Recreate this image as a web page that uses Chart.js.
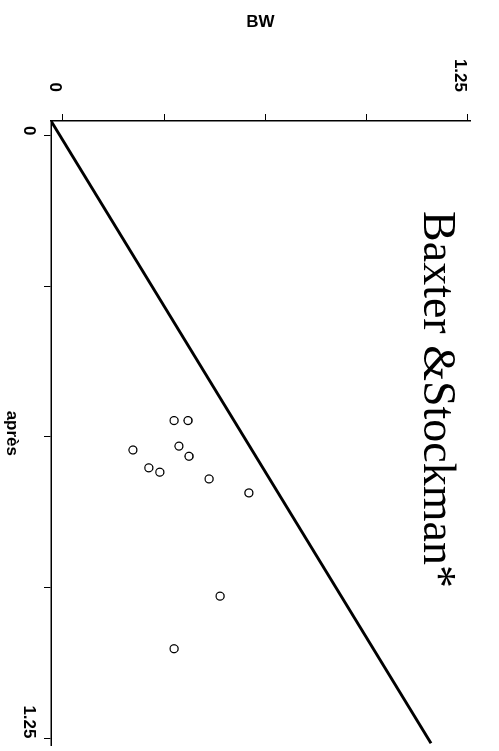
<!DOCTYPE html>
<html>
<head>
<meta charset="utf-8">
<script src="https://cdn.jsdelivr.net/npm/chart.js@4"></script>
<style>
  html, body { margin: 0; padding: 0; background: #fff; overflow: hidden; }
  #wrap {
    position: absolute; left: 499px; top: 0;
    width: 751px; height: 499px;
    transform-origin: 0 0; transform: rotate(90deg);
  }
</style>
</head>
<body>
<div id="wrap"><canvas id="c" width="751" height="499"></canvas></div>
<script>
// values (après on x, BW on y)
const apres = [0.591, 0.591, 0.652, 0.644, 0.665, 0.689, 0.698, 0.712, 0.741, 0.955, 1.064]
const bw    = [0.343, 0.386, 0.216, 0.358, 0.389, 0.265, 0.299, 0.451, 0.574, 0.485, 0.343]
// fitted line, two ends
const lineApres = [-0.03, 1.26]
const lineBw    = [-0.037, 1.136]
const tickVals  = [0, 0.3125, 0.625, 0.9375, 1.25]
const tickShown = ['0', '', '', '', '1.25']

const tickFont = { family: 'Liberation Sans', size: 17, weight: 'bold' }
const titleFont = { family: 'Liberation Sans', size: 17, weight: 'bold' }

function setTicks(s) { s.ticks = tickVals.map(v => ({ value: v })) }
function label(v) {
  const i = tickVals.indexOf(v)
  return i < 0 ? '' : tickShown[i]
}

new Chart(document.getElementById('c'), {
  type: 'scatter',
  data: {
    datasets: [{
      label: 'points',
      data: apres.map((x, i) => ({ x: x, y: bw[i] })),
      pointStyle: 'circle',
      pointRadius: 4,
      pointBorderWidth: 1.3,
      borderColor: '#000',
      backgroundColor: 'rgba(255,255,255,0)'
    }, {
      label: 'line',
      data: lineApres.map((x, i) => ({ x: x, y: lineBw[i] })),
      showLine: true,
      borderColor: '#000',
      borderWidth: 2.8,
      pointRadius: 0
    }]
  },
  options: {
    responsive: false,
    animation: false,
    layout: { padding: { left: 49, right: 1, top: 0, bottom: 0 } },
    plugins: {
      legend: { display: false },
      tooltip: { enabled: false },
      title: {
        display: true,
        text: 'Baxter &Stockman*',
        color: '#000',
        font: { family: 'Liberation Serif', size: 46, weight: 'normal' },
        padding: { top: 35, bottom: -61 }
      }
    },
    scales: {
      x: {
        type: 'linear',
        min: -0.03, max: 1.265,
        afterBuildTicks: setTicks,
        afterFit: s => { s.height = 51 },
        grid: { drawOnChartArea: false, drawTicks: true, tickLength: 7, color: '#000' },
        border: { display: true, color: '#000', width: 1.5 },
        ticks: { color: '#000', font: tickFont, align: 'end', padding: 5, maxRotation: 0, autoSkip: false, callback: label },
        title: { display: true, text: 'après', color: '#000', font: titleFont, padding: { top: 0, bottom: 1 } }
      },
      y: {
        type: 'linear',
        min: -0.037, max: 1.256,
        afterBuildTicks: setTicks,
        afterFit: s => { s.width = 72 },
        grid: { drawOnChartArea: false, drawTicks: true, tickLength: 7, color: '#000' },
        border: { display: true, color: '#000', width: 1.5 },
        ticks: { color: '#000', font: tickFont, align: 'start', padding: 22, autoSkip: false, callback: label },
        title: { display: true, text: 'BW', color: '#000', font: titleFont, padding: { top: -37, bottom: 0 } }
      }
    }
  }
})
</script>
</body>
</html>
